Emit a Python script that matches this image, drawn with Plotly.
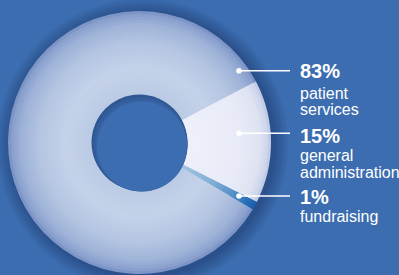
import plotly.graph_objects as go

# ---- data ----
categories = ["patient services", "general administration", "fundraising"]
values = [83, 15, 1]
pct_labels = ["83%", "15%", "1%"]
desc_lines = [["patient", "services"], ["general", "administration"], ["fundraising"]]

# ---- layout constants (pixels) ----
W, H = 399, 275
CX, CY = 139.5, 142.5
R_OUT, R_IN = 131.5, 48.0
BG = "#3c6db0"
ROTATION = 120.5  # start of first slice, degrees clockwise from 12 o'clock


def hex2rgb(h):
    h = h.lstrip("#")
    return tuple(int(h[i:i + 2], 16) for i in (0, 2, 4))


def interp(stops, r):
    for (r0, c0), (r1, c1) in zip(stops[:-1], stops[1:]):
        if r0 <= r <= r1:
            f = (r - r0) / (r1 - r0) if r1 > r0 else 0
            a, b = hex2rgb(c0), hex2rgb(c1)
            return "rgb(%d,%d,%d)" % tuple(round(a[i] + (b[i] - a[i]) * f) for i in range(3))
    return "rgb(%d,%d,%d)" % hex2rgb(stops[-1][1])


grad = [
    [(48, "#bccbe5"), (75, "#c4d2e9"), (100, "#b4c5e2"), (118, "#9fb3d8"), (127, "#8aa1ce"), (131.5, "#7890c4")],
    [(48, "#eef0fa"), (100, "#e8ebf7"), (120, "#dfe3f2"), (127, "#d0d7ec"), (131.5, "#bcc6e2")],
    [(48, "#a2c5e0"), (80, "#85b2d7"), (105, "#5892c9"), (122, "#2a70b8"), (131.5, "#1a5fac")],
]


def dom(r):
    return dict(x=[(CX - r) / W, (CX + r) / W], y=[1 - (CY + r) / H, 1 - (CY - r) / H])


fig = go.Figure()
N = 28
for k in range(N):
    r = R_OUT - (R_OUT - R_IN) * k / N
    rm = r - (R_OUT - R_IN) / N / 2
    cols = [interp(g, rm) for g in grad]
    fig.add_trace(go.Pie(
        labels=categories, values=values, sort=False, direction="clockwise",
        rotation=ROTATION, hole=R_IN / r, domain=dom(r),
        marker=dict(colors=cols, line=dict(width=0)),
        textinfo="none", hoverinfo="skip", showlegend=False,
    ))

shapes = []
# soft outer shadow
for i, a in enumerate([0.05, 0.05, 0.05, 0.05, 0.05, 0.05, 0.06, 0.06]):
    rr = R_OUT + 14 - i * 1.8
    ox, oy = CX + 3, CY + 2
    shapes.append(dict(type="circle", xref="paper", yref="paper", layer="below",
                       x0=(ox - rr) / W, x1=(ox + rr) / W,
                       y0=1 - (oy + rr) / H, y1=1 - (oy - rr) / H,
                       fillcolor="rgba(15,35,85,%.2f)" % a, line=dict(width=0)))
# hole inner shadow
for i, (rr, dx, dy, col) in enumerate([(R_IN, 0, 0, "#2f5893"), (R_IN - 1, 1, 1.5, "#335d9b"),
                                        (R_IN - 2, 2, 3, "#3763a4"), (R_IN - 3, 2.5, 4, BG)]):
    shapes.append(dict(type="circle", xref="paper", yref="paper", layer="above",
                       x0=(CX + dx - rr) / W, x1=(CX + dx + rr) / W,
                       y0=1 - (CY + dy + rr) / H, y1=1 - (CY + dy - rr) / H,
                       fillcolor=col, line=dict(width=0)))

# leader lines and dots
dot_x, line_end = 239, 290
label_y = [70.7, 133.3, 196.0]
for y in label_y:
    shapes.append(dict(type="line", xref="paper", yref="paper", layer="above",
                       x0=dot_x / W, x1=line_end / W, y0=1 - y / H, y1=1 - y / H,
                       line=dict(color="white", width=1.6)))
    rd = 2.8
    shapes.append(dict(type="circle", xref="paper", yref="paper", layer="above",
                       x0=(dot_x - rd) / W, x1=(dot_x + rd) / W,
                       y0=1 - (y + rd) / H, y1=1 - (y - rd) / H,
                       fillcolor="white", line=dict(width=0)))

annotations = []
pct_center = [71.4, 136.3, 196.7]
desc_baselines = [[97.5, 114.0], [160.0, 176.5], [220.5]]
FS = 16
for p, lines, yc, bls in zip(pct_labels, desc_lines, pct_center, desc_baselines):
    annotations.append(dict(text="<b>%s</b>" % p, xref="paper", yref="paper",
                            x=298 / W, y=1 - yc / H, xanchor="left", yanchor="middle",
                            showarrow=False, align="left",
                            font=dict(family="Liberation Sans, Arial", size=20, color="white")))
    for txt, bl in zip(lines, bls):
        ymid = bl - 0.26 * FS
        annotations.append(dict(text=txt, xref="paper", yref="paper",
                                x=298 / W, y=1 - ymid / H, xanchor="left", yanchor="middle",
                                showarrow=False, align="left",
                                font=dict(family="Liberation Sans, Arial", size=FS, color="white")))

fig.update_layout(
    width=W, height=H, margin=dict(l=0, r=0, t=0, b=0),
    paper_bgcolor=BG, plot_bgcolor=BG,
    shapes=shapes, annotations=annotations,
)

fig.write_html("out.html", config={"displayModeBar": False},
               post_script="document.body.style.margin='0';")
